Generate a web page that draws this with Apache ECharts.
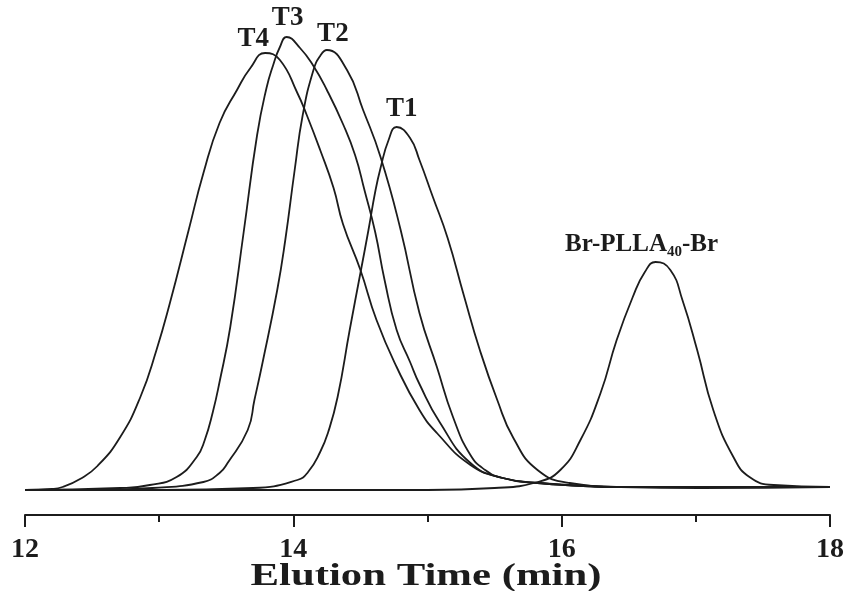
<!DOCTYPE html>
<html>
<head>
<meta charset="utf-8">
<script src="https://cdn.jsdelivr.net/npm/echarts@6/dist/echarts.min.js"></script>
<style>
  html, body { margin: 0; padding: 0; background: #ffffff; }
  #chart { width: 848px; height: 591px; }
</style>
</head>
<body>
<div id="chart"></div>
<script>
// GPC traces: elution time (min) vs detector response (arbitrary units)
const t4Time  = [12.00, 12.20, 12.28, 12.41, 12.54, 12.71, 12.86, 12.98, 13.08, 13.22, 13.33, 13.45, 13.58, 13.68, 13.79, 13.90, 14.03, 14.10, 14.20, 14.30, 14.37, 14.50, 14.62, 14.77, 14.94, 15.07, 15.32, 15.56, 15.82, 16.44, 17.03, 18.00];
const t4Value = [0, 1, 3, 11, 24, 53, 93, 140, 187, 260, 317, 367, 400, 422, 437, 430, 397, 375, 340, 302, 266, 220, 170, 123, 80, 57, 25, 12, 7, 3, 2, 3];

const t3Time  = [12.00, 12.71, 12.93, 13.13, 13.28, 13.34, 13.40, 13.45, 13.53, 13.63, 13.73, 13.80, 13.85, 13.90, 13.95, 14.05, 14.15, 14.25, 14.37, 14.46, 14.53, 14.61, 14.68, 14.77, 14.87, 14.94, 15.09, 15.32, 15.56, 15.82, 16.44, 18.00];
const t3Value = [0, 2, 5, 13, 33, 50, 78, 108, 163, 258, 355, 402, 425, 443, 453, 442, 424, 400, 366, 335, 300, 258, 210, 160, 128, 106, 68, 27, 12, 7, 3, 3];

const t2Time  = [12.00, 12.50, 12.95, 13.33, 13.45, 13.51, 13.66, 13.71, 13.77, 13.88, 13.94, 14.01, 14.07, 14.15, 14.20, 14.25, 14.40, 14.52, 14.65, 14.80, 14.94, 15.07, 15.19, 15.32, 15.43, 15.56, 15.82, 16.44, 18.00];
const t2Value = [0, 0, 2, 8, 17, 27, 60, 90, 127, 200, 250, 320, 375, 420, 434, 440, 420, 380, 333, 260, 177, 123, 73, 35, 20, 12, 7, 3, 3];

const t1Time  = [12.00, 13.00, 13.70, 14.03, 14.11, 14.20, 14.26, 14.33, 14.42, 14.50, 14.56, 14.61, 14.65, 14.71, 14.77, 14.87, 14.94, 15.04, 15.15, 15.27, 15.39, 15.52, 15.64, 15.82, 16.06, 16.44, 18.00];
const t1Value = [0, 0, 2, 10, 18, 38, 58, 93, 160, 217, 260, 298, 322, 350, 363, 352, 330, 293, 252, 195, 140, 90, 52, 20, 7, 3, 3];

const brTime  = [12.00, 15.00, 15.50, 15.82, 15.99, 16.14, 16.29, 16.41, 16.53, 16.62, 16.70, 16.81, 16.90, 17.01, 17.13, 17.28, 17.40, 17.58, 18.00];
const brValue = [0, 0, 2, 8, 20, 50, 97, 150, 193, 218, 228, 220, 190, 140, 80, 33, 13, 5, 3];

const seriesNames = ['T4', 'T3', 'T2', 'T1', 'Br-PLLA40-Br'];
const xTicks = [12, 14, 16, 18];
const xTitle = 'Elution Time (min)';

function pairs(ts, vs) { return ts.map((t, i) => [t, vs[i]]); }

const traces = [
  { name: seriesNames[0], t: t4Time, v: t4Value, label: 'T4', off: [-12, -14] },
  { name: seriesNames[1], t: t3Time, v: t3Value, label: 'T3', off: [1, -19] },
  { name: seriesNames[2], t: t2Time, v: t2Value, label: 'T2', off: [6, -16] },
  { name: seriesNames[3], t: t1Time, v: t1Value, label: 'T1', off: [5, -18] },
  { name: seriesNames[4], t: brTime, v: brValue, label: '{a|Br-PLLA}{s|40}{a|-Br}', off: [-14, -17] }
];

const labelFont = 'Liberation Serif';
const ink = '#1c1c1c';

const series = traces.map(tr => {
  let k = 0;
  tr.v.forEach((val, i) => { if (val > tr.v[k]) k = i; });
  return {
    name: tr.name,
    type: 'line',
    data: pairs(tr.t, tr.v),
    smooth: 0.5,
    showSymbol: false,
    silent: true,
    lineStyle: { color: ink, width: 1.8 },
    markPoint: {
      symbol: 'circle',
      symbolSize: 0,
      silent: true,
      data: [{ coord: [tr.t[k], tr.v[k]] }],
      label: {
        show: true,
        position: 'inside',
        offset: tr.off,
        formatter: tr.label,
        color: ink,
        fontFamily: labelFont,
        fontWeight: 'bold',
        fontSize: 27,
        rich: {
          a: { fontFamily: labelFont, fontWeight: 'bold', fontSize: 25, color: ink, lineHeight: 26 },
          s: { fontFamily: labelFont, fontWeight: 'bold', fontSize: 15, color: ink, lineHeight: 26, padding: [14, 0, 0, 0] }
        }
      }
    }
  };
});

const chart = echarts.init(document.getElementById('chart'), null, { renderer: 'canvas' });
chart.setOption({
  animation: false,
  backgroundColor: '#ffffff',
  grid: { left: 25, right: 18, top: 15, bottom: 76, containLabel: false, outerBoundsMode: 'none' },
  xAxis: {
    type: 'value',
    min: xTicks[0],
    max: xTicks[xTicks.length - 1],
    interval: 2,
    axisLine: { onZero: false, lineStyle: { color: ink, width: 2 } },
    axisTick: { show: true, inside: false, length: 12, lineStyle: { color: ink, width: 2 } },
    minorTick: { show: true, splitNumber: 2, length: 7, lineStyle: { color: ink, width: 2 } },
    axisLabel: { margin: 21, fontFamily: labelFont, fontWeight: 'bold', fontSize: 28, color: ink },
    splitLine: { show: false }
  },
  yAxis: {
    type: 'value',
    min: -25,
    max: 475,
    show: false,
    splitLine: { show: false }
  },
  graphic: [{
    type: 'text',
    x: 426,
    y: 577,
    scaleX: 1.38,
    silent: true,
    style: {
      text: xTitle,
      fill: ink,
      font: 'bold 31px "Liberation Serif"',
      textAlign: 'center',
      textVerticalAlign: 'middle'
    }
  }],
  series: series
});
</script>
</body>
</html>
